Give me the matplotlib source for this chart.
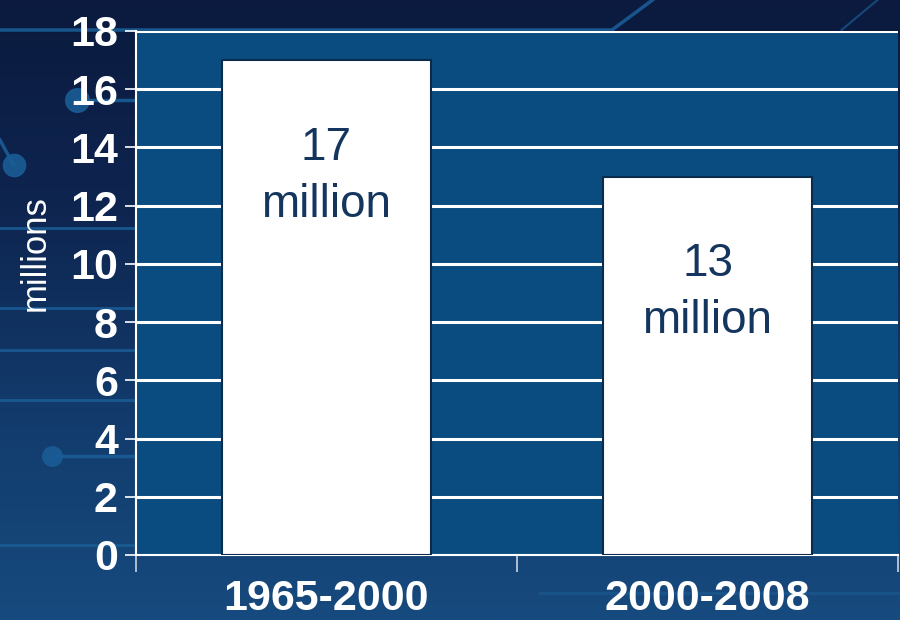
import numpy as np
import matplotlib
matplotlib.use("Agg")
import matplotlib.pyplot as plt
from matplotlib.lines import Line2D
from matplotlib.colors import LinearSegmentedColormap

categories = ["1965-2000", "2000-2008"]
values = [17, 13]
bar_labels = ["17\nmillion", "13\nmillion"]
yticks = [0, 2, 4, 6, 8, 10, 12, 14, 16, 18]

plt.rcParams['font.family'] = ['Liberation Sans', 'DejaVu Sans']

fig = plt.figure(figsize=(9, 6.2), dpi=100)

# background gradient
bg = fig.add_axes([0, 0, 1, 1], zorder=-10)
grad = np.linspace(0, 1, 256).reshape(-1, 1)
cmap = LinearSegmentedColormap.from_list("bg", ["#0b1a3e", "#0e2550", "#123b6c", "#174a7e"])
bg.imshow(grad, aspect='auto', cmap=cmap, extent=[0, 1, 0, 1], origin='upper')
bg.set_xlim(0, 1); bg.set_ylim(0, 1)
bg.axis('off')

# decorative circuit lines (figure coords)
dc = "#1a5c95"
def fl(xs, ys, lw=2.5, a=0.9):
    bg.add_line(Line2D(xs, ys, color=dc, lw=lw, alpha=a, transform=bg.transAxes))
def dot(x, y, ms=16):
    bg.plot([x], [y], 'o', color=dc, ms=ms, alpha=0.9, transform=bg.transAxes)
fl([0, 0.68, 0.725], [1 - 30/620, 1 - 30/620, 1.0])
fl([0.085, 0.16], [1 - 100/620, 1 - 100/620]); dot(0.085, 1 - 100/620, 17)
fl([0, 0.015], [1 - 140/620, 1 - 165/620]); dot(0.015, 1 - 165/620, 16)
fl([0, 0.16], [1 - 228/620, 1 - 228/620], lw=2)
fl([0, 0.16], [1 - 308/620, 1 - 308/620], lw=2)
fl([0, 0.16], [1 - 350/620, 1 - 350/620], lw=2)
fl([0, 0.16], [1 - 400/620, 1 - 400/620], lw=2)
fl([0.058, 0.16], [1 - 456/620, 1 - 456/620]); dot(0.058, 1 - 456/620, 14)
fl([0, 0.16], [1 - 545/620, 1 - 545/620], lw=2)
fl([0.6, 1.0], [1 - 593/620, 1 - 593/620], lw=2, a=0.6)
fl([0.935, 0.975], [1 - 30/620, 1.0], lw=1.5, a=0.7)

ax = fig.add_axes([136/900, 1 - 555/620, (898 - 136)/900, (555 - 31)/620])
ax.set_facecolor("#0a4c7f")

x = np.arange(len(categories))
bars = ax.bar(x, values, width=0.55, color="white", edgecolor="#0b2b4d", linewidth=1.5, zorder=3)

ax.set_xlim(-0.5, 1.5)
ax.set_ylim(0, 18)
ax.set_yticks(yticks)
ax.set_yticklabels([str(t) for t in yticks], fontsize=31, fontweight='bold', color='white')
ax.tick_params(axis='y', length=8, width=1.2, color='white', pad=5)
ax.yaxis.grid(True, color='white', linewidth=2.2, zorder=1)
ax.set_axisbelow(True)

ax.set_xticks([-0.5, 0.5, 1.5])
ax.set_xticklabels([])
ax.set_xticks(x, minor=True)
ax.set_xticklabels(categories, minor=True, fontsize=31, fontweight='bold', color='white')
ax.tick_params(axis='x', which='major', length=12, width=1.2, color='#c8d4e0', direction='out')
ax.tick_params(axis='x', which='minor', length=0, pad=17)

for s in ['top', 'right']:
    ax.spines[s].set_visible(False)
ax.spines['left'].set_color('white'); ax.spines['left'].set_linewidth(1.5)
ax.spines['bottom'].set_color('white'); ax.spines['bottom'].set_linewidth(1.5)

for b, lab in zip(bars, bar_labels):
    ax.text(b.get_x() + b.get_width() / 2, b.get_height() - 2.25, lab,
            ha='center', va='top', fontsize=33, color="#14365e",
            linespacing=1.38, zorder=4)

ax.set_ylabel("millions", fontsize=25, color='white')
ax.yaxis.set_label_coords(-0.11, (555 - 253) / (555 - 31))

fig.savefig("out.png", dpi=100)
